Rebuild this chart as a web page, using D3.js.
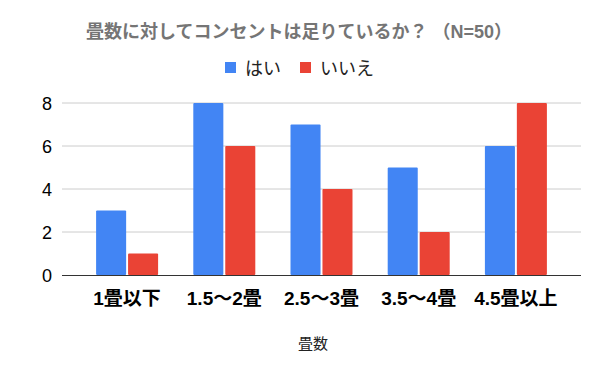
<!DOCTYPE html>
<html>
<head>
<meta charset="utf-8">
<script src="https://cdn.jsdelivr.net/npm/d3@7"></script>
<style>
  body { margin: 0; background: white; }
  text { font-family: "Liberation Sans", Arial, "Noto Sans CJK JP", sans-serif; }
  .gridline { stroke: #cccccc; stroke-width: 1; }
</style>
</head>
<body>
<div id="chart"></div>
<script>
var categories = ["1畳以下", "1.5〜2畳", "2.5〜3畳", "3.5〜4畳", "4.5畳以上"];
var hai = [3, 8, 7, 5, 6];
var iie = [1, 6, 4, 2, 8];
var seriesNames = ["はい", "いいえ"];
var seriesColors = ["#4285f4", "#ea4335"];
var yTicks = [0, 2, 4, 6, 8];

var width = 600, height = 371;

var svg = d3.select("#chart")
  .append("svg")
  .attr("width", width)
  .attr("height", height);

var plotLeft = 62, plotRight = 581;
var yscale = d3.scaleLinear()
  .domain([0, 8])
  .range([275, 103]);

var xscale = d3.scaleBand()
  .domain(categories)
  .range([78.5, 564.5])
  .padding(0);

var inner = d3.scaleBand()
  .domain(seriesNames)
  .range([xscale.bandwidth() / 2 - 31, xscale.bandwidth() / 2 + 31])
  .paddingInner(0.06);

// title
svg.append("text")
  .attr("x", 299)
  .attr("y", 38)
  .attr("text-anchor", "middle")
  .style("font-size", "18px")
  .style("font-weight", "bold")
  .style("fill", "#757575")
  .text("畳数に対してコンセントは足りているか？ （N=50）");

// legend
var legend = svg.append("g");
var legendX = [225, 300];
seriesNames.forEach(function (name, i) {
  legend.append("rect")
    .attr("x", legendX[i])
    .attr("y", 62)
    .attr("width", 11)
    .attr("height", 11)
    .style("fill", seriesColors[i]);
  legend.append("text")
    .attr("x", legendX[i] + 20)
    .attr("y", 75)
    .style("font-size", "18px")
    .style("fill", "#222")
    .text(name);
});

// gridlines
svg.append("g")
  .selectAll("line")
  .data(yTicks.filter(function (d) { return d > 0; }))
  .enter().append("line")
  .attr("class", "gridline")
  .attr("x1", plotLeft)
  .attr("x2", plotRight)
  .attr("y1", function (d) { return yscale(d); })
  .attr("y2", function (d) { return yscale(d); });

// y labels
svg.append("g")
  .selectAll("text")
  .data(yTicks)
  .enter().append("text")
  .attr("x", 52)
  .attr("y", function (d) { return yscale(d) + 6.5; })
  .attr("text-anchor", "end")
  .style("font-size", "18px")
  .style("fill", "#000")
  .text(function (d) { return d; });

// bars
var rows = categories.map(function (c, i) {
  return { cat: c, vals: [hai[i], iie[i]] };
});

var groups = svg.append("g")
  .selectAll("g")
  .data(rows)
  .enter().append("g")
  .attr("transform", function (d) { return "translate(" + xscale(d.cat) + ",0)"; });

groups.selectAll("rect")
  .data(function (d) { return d.vals.map(function (v, j) { return { name: seriesNames[j], v: v, j: j }; }); })
  .enter().append("rect")
  .attr("x", function (d) { return inner(d.name); })
  .attr("width", inner.bandwidth())
  .attr("y", function (d) { return yscale(d.v); })
  .attr("height", function (d) { return yscale(0) - yscale(d.v); })
  .attr("rx", 1)
  .style("fill", function (d) { return seriesColors[d.j]; });

// baseline
svg.append("line")
  .attr("x1", plotLeft)
  .attr("x2", plotRight)
  .attr("y1", yscale(0) + 0.5)
  .attr("y2", yscale(0) + 0.5)
  .style("stroke", "#333")
  .style("stroke-width", 1);

// x labels
svg.append("g")
  .selectAll("text")
  .data(categories)
  .enter().append("text")
  .attr("x", function (d) { return xscale(d) + xscale.bandwidth() / 2; })
  .attr("y", 305)
  .attr("text-anchor", "middle")
  .style("font-size", "19px")
  .style("font-weight", "bold")
  .style("fill", "#000")
  .text(function (d) { return d; });

// x axis title
svg.append("text")
  .attr("x", 313)
  .attr("y", 349)
  .attr("text-anchor", "middle")
  .style("font-size", "15px")
  .style("fill", "#222")
  .text("畳数");
</script>
</body>
</html>
